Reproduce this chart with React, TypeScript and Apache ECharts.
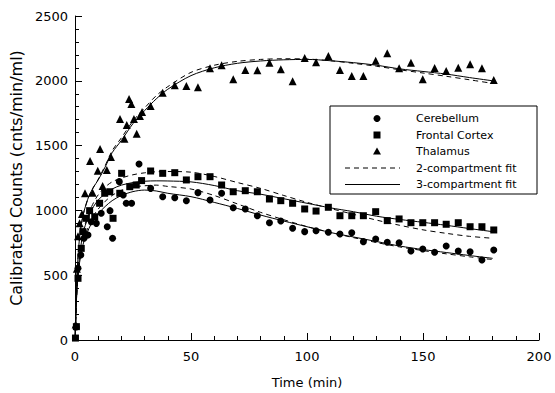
import React, { useEffect, useRef } from "react";
import * as echarts from "echarts";

// ---- data ----
const lateTimes = [32.6, 37.8, 43, 48, 53, 58.2, 63.2, 68.2, 73.4, 78.6, 83.8, 88.7, 93.8, 99, 103.9, 109.2, 114.2, 119.3, 124.3, 129.6, 134.6, 139.7, 144.8, 149.9, 155, 160, 165.2, 170.3, 175.4, 180.5];

const cerebellumEarlyT = [0.5, 1.3, 2.5, 3.9, 5.6, 7, 9.2, 11.3, 13.9, 15.1, 16.2, 19.1, 20.8, 22.1, 24.4, 27.6];
const cerebellumEarlyV = [100, 553, 656, 785, 810, 913, 900, 978, 874, 998, 785, 1222, 1119, 1055, 1055, 1358];
const cerebellumLateV = [1170, 1106, 1098, 1075, 1137, 1080, 1132, 1021, 1011, 959, 905, 918, 862, 836, 843, 831, 818, 828, 759, 779, 754, 751, 687, 702, 677, 725, 687, 681, 617, 694];

const frontalEarlyT = [0.2, 0.6, 1.3, 2.7, 3.4, 4.9, 6.3, 8.5, 10.6, 12.8, 15, 16.4, 19.3, 20.1, 23.6, 26.4, 28.7];
const frontalEarlyV = [15, 103, 476, 707, 836, 939, 998, 951, 1055, 1132, 1144, 939, 1132, 1286, 1183, 1196, 1230];
const frontalLateV = [1304, 1286, 1291, 1235, 1260, 1260, 1196, 1144, 1152, 1144, 1088, 1075, 1055, 1011, 995, 1024, 959, 959, 959, 990, 921, 934, 905, 905, 905, 893, 905, 874, 874, 849];

const thalamusEarlyT = [0.3, 0.8, 1.3, 2, 3, 4.3, 6.5, 7.6, 9.8, 10.8, 11.9, 13.7, 15.5, 19.4, 21.3, 22.3, 23.3, 24.3, 25.4, 26.6, 28, 28.9];
const thalamusEarlyV = [120, 550, 800, 900, 972, 1132, 1381, 1137, 1306, 1474, 1188, 1312, 1412, 1705, 1553, 1659, 1860, 1821, 1705, 1592, 1728, 1759];
const thalamusLateV = [1806, 1908, 1965, 1960, 1950, 2096, 2120, 2012, 2083, 2081, 2140, 2089, 1996, 2176, 2143, 2191, 2083, 2037, 2037, 2155, 2212, 2096, 2140, 2012, 2099, 2076, 2101, 2127, 2096, 2006];

const fitTimes = [0, 0.5, 1, 2, 3, 4, 6, 8, 10, 13, 16, 20, 25, 30, 35, 40, 50, 60, 70, 80, 90, 100, 110, 120, 130, 140, 150, 160, 170, 180];
const cerebellum3 = [0, 250, 430, 600, 700, 770, 860, 930, 975, 1030, 1075, 1115, 1145, 1157, 1150, 1132, 1106, 1062, 1015, 964, 918, 874, 830, 795, 760, 725, 698, 675, 652, 630];
const cerebellum2 = [0, 250, 430, 610, 715, 790, 885, 960, 1010, 1070, 1115, 1155, 1180, 1190, 1195, 1185, 1165, 1115, 1050, 985, 928, 875, 830, 790, 752, 718, 690, 665, 642, 620];
const frontal3 = [0, 250, 450, 650, 780, 860, 960, 1030, 1080, 1130, 1165, 1195, 1215, 1225, 1228, 1227, 1220, 1192, 1152, 1125, 1090, 1055, 1020, 990, 955, 930, 908, 885, 860, 836];
const frontal2 = [0, 250, 450, 650, 780, 870, 980, 1060, 1120, 1180, 1220, 1250, 1275, 1290, 1298, 1300, 1295, 1262, 1215, 1170, 1115, 1062, 1015, 970, 925, 885, 850, 823, 800, 785];
const thalamus3 = [0, 300, 550, 800, 920, 1000, 1110, 1180, 1235, 1335, 1445, 1540, 1670, 1770, 1860, 1935, 2040, 2100, 2135, 2153, 2162, 2165, 2155, 2140, 2120, 2092, 2072, 2052, 2025, 2000];
const thalamus2 = [0, 300, 550, 800, 920, 1000, 1110, 1180, 1240, 1345, 1460, 1560, 1690, 1790, 1885, 1955, 2065, 2120, 2150, 2165, 2170, 2168, 2155, 2135, 2112, 2085, 2060, 2035, 2008, 1980];

const legendNames = ["Cerebellum", "Frontal Cortex", "Thalamus", "2-compartment fit", "3-compartment fit"];
const xTicks = { min: 0, max: 200, interval: 50 };
const yTicks = { min: 0, max: 2500, interval: 500 };

const pairs = (t: number[], v: number[]) => t.map((x, i) => [x, v[i]]);

export default function App() {
  const ref = useRef<HTMLDivElement>(null);
  useEffect(() => {
    if (!ref.current) return;
    const chart = echarts.init(ref.current, null, { renderer: "svg" });
    const font = "DejaVu Sans";
    const scatter = (name: string, symbol: string, size: number, t: number[], v: number[]) => ({
      type: "scatter",
      name,
      symbol,
      symbolSize: size,
      itemStyle: { color: "#000", opacity: 1 },
      data: pairs(t, v),
      z: 3,
    });
    const fit = (name: string, v: number[], dashed: boolean) => ({
      type: "line",
      name,
      data: pairs(fitTimes, v),
      smooth: 0.3,
      symbol: "none",
      lineStyle: { color: "#000", width: 1, type: dashed ? [5, 4] : "solid" },
      z: 2,
    });
    const legendX = 330, legendY = 106, rowH = 16.5;
    const rowY = (i: number) => legendY + 12.5 + i * rowH;
    const symX = 377, textX = 416;
    const legendGraphics: any[] = [
      { type: "rect", shape: { x: legendX, y: legendY, width: 207, height: 88 }, style: { fill: "#fff", stroke: "#000", lineWidth: 1 }, z: 10 },
      { type: "circle", shape: { cx: symX, cy: rowY(0), r: 3.5 }, style: { fill: "#000" }, z: 11 },
      { type: "rect", shape: { x: symX - 3.5, y: rowY(1) - 3.5, width: 7, height: 7 }, style: { fill: "#000" }, z: 11 },
      { type: "polygon", shape: { points: [[symX, rowY(2) - 4], [symX + 4, rowY(2) + 3], [symX - 4, rowY(2) + 3]] }, style: { fill: "#000" }, z: 11 },
      { type: "line", shape: { x1: 345, y1: rowY(3), x2: 400, y2: rowY(3) }, style: { stroke: "#000", lineWidth: 1, lineDash: [5, 4] }, z: 11 },
      { type: "line", shape: { x1: 345, y1: rowY(4), x2: 400, y2: rowY(4) }, style: { stroke: "#000", lineWidth: 1 }, z: 11 },
      ...legendNames.map((n, i) => ({
        type: "text",
        x: textX,
        y: rowY(i),
        style: { text: n, fill: "#000", font: `11px "${font}"`, textVerticalAlign: "middle", verticalAlign: "middle" },
        z: 11,
      })),
    ];
    chart.setOption({
      animation: false,
      backgroundColor: "#fff",
      grid: { left: 75, right: 16, top: 16, bottom: 53, containLabel: false, outerBoundsMode: "none" },
      xAxis: {
        type: "value",
        ...xTicks,
        name: "Time (min)",
        nameLocation: "middle",
        nameGap: 36,
        nameTextStyle: { color: "#000", fontFamily: font, fontSize: 13 },
        axisLine: { show: true, onZero: false, lineStyle: { color: "#000", width: 1 } },
        axisTick: { show: true, inside: true, length: 7, lineStyle: { color: "#000" } },
        minorTick: { show: true, splitNumber: 5, length: 4, lineStyle: { color: "#000" } },
        axisLabel: { color: "#000", fontFamily: font, fontSize: 13, margin: 10, formatter: (v: number) => String(v) },
        splitLine: { show: false },
      },
      yAxis: {
        type: "value",
        ...yTicks,
        name: "Calibrated Counts (cnts/min/ml)",
        nameLocation: "middle",
        nameGap: 48,
        nameTextStyle: { color: "#000", fontFamily: font, fontSize: 16 },
        axisLine: { show: true, onZero: false, lineStyle: { color: "#000", width: 1 } },
        axisTick: { show: true, inside: true, length: 7, lineStyle: { color: "#000" } },
        minorTick: { show: true, splitNumber: 5, length: 4, lineStyle: { color: "#000" } },
        axisLabel: { color: "#000", fontFamily: font, fontSize: 13, margin: 7, formatter: (v: number) => String(v) },
        splitLine: { show: false },
      },
      series: [
        fit("2-compartment fit", cerebellum2, true),
        fit("2-compartment fit", frontal2, true),
        fit("2-compartment fit", thalamus2, true),
        fit("3-compartment fit", cerebellum3, false),
        fit("3-compartment fit", frontal3, false),
        fit("3-compartment fit", thalamus3, false),
        scatter("Cerebellum", "circle", 7, [...cerebellumEarlyT, ...lateTimes], [...cerebellumEarlyV, ...cerebellumLateV]),
        scatter("Frontal Cortex", "rect", 7, [...frontalEarlyT, ...lateTimes], [...frontalEarlyV, ...frontalLateV]),
        scatter("Thalamus", "triangle", 8, [...thalamusEarlyT, ...lateTimes], [...thalamusEarlyV, ...thalamusLateV]),
      ],
      graphic: legendGraphics,
    });
    return () => chart.dispose();
  }, []);
  return <div ref={ref} style={{ position: "fixed", left: 0, top: 0, width: 555, height: 393, background: "#fff" }} />;
}
